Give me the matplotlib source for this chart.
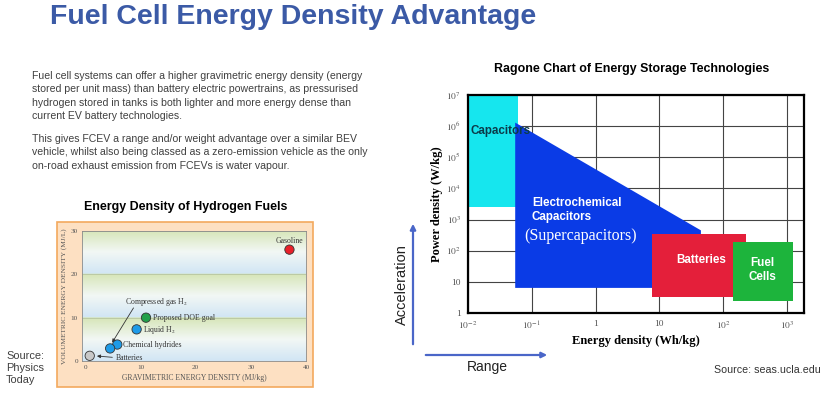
import numpy as np
import matplotlib.pyplot as plt
from matplotlib.patches import Rectangle, Polygon, FancyArrowPatch

plt.rcParams['font.family'] = ['Liberation Sans', 'DejaVu Sans']
plt.rcParams['mathtext.fontset'] = 'stix'

W, H = 827, 393

# Energy density of hydrogen fuels (MJ/kg, MJ/L)
fuel_names = ['Gasoline', 'Proposed DOE goal', 'Liquid H$_2$', 'Chemical hydrides', 'Chemical hydrides', 'Batteries']
fuel_grav = [37.0, 11.0, 9.3, 5.8, 4.5, 0.8]
fuel_vol = [25.7, 10.0, 7.3, 3.8, 2.9, 1.2]
fuel_colors = ['#e8202a', '#22a04a', '#1e9be8', '#1e9be8', '#1e9be8', '#c8c8c8']
left_xticks = [0, 10, 20, 30, 40]
left_yticks = [0, 10, 20, 30]

# Ragone chart regions (Wh/kg, W/kg)
cap_x = [0.01, 0.06]
cap_y = [2500, 1e7]
ec_x = [0.055, 0.055, 45, 45]
ec_y = [6.4, 1.3e6, 450, 6.4]
bat_x = [7.6, 230]
bat_y = [3.3, 350]
fc_x = [142, 1230]
fc_y = [2.5, 190]
rag_xticks = [1e-2, 1e-1, 1, 10, 1e2, 1e3]
rag_xlabels = [r'$10^{-2}$', r'$10^{-1}$', '1', '10', r'$10^{2}$', r'$10^{3}$']
rag_yticks = [1, 10, 1e2, 1e3, 1e4, 1e5, 1e6, 1e7]
rag_ylabels = ['1', '10', r'$10^{2}$', r'$10^{3}$', r'$10^{4}$', r'$10^{5}$', r'$10^{6}$', r'$10^{7}$']


def rect(x0, y0, x1, y1):
    return [x0 / W, 1 - y1 / H, (x1 - x0) / W, (y1 - y0) / H]


fig = plt.figure(figsize=(W / 100, H / 100), dpi=100)
fig.patch.set_facecolor('white')

# slide title and text
fig.text(50 / W, 1 - 17 / H, 'Fuel Cell Energy Density Advantage', fontsize=20.5, fontweight='bold',
         color='#3b5aa6', va='center', ha='left')
para1 = ("Fuel cell systems can offer a higher gravimetric energy density (energy\n"
         "stored per unit mass) than battery electric powertrains, as pressurised\n"
         "hydrogen stored in tanks is both lighter and more energy dense than\n"
         "current EV battery technologies.")
para2 = ("This gives FCEV a range and/or weight advantage over a similar BEV\n"
         "vehicle, whilst also being classed as a zero-emission vehicle as the only\n"
         "on-road exhaust emission from FCEVs is water vapour.")
fig.text(32 / W, 1 - 71 / H, para1, fontsize=7.6, color='#404040', va='top', ha='left', linespacing=1.42)
fig.text(32 / W, 1 - 134 / H, para2, fontsize=7.6, color='#404040', va='top', ha='left', linespacing=1.42)

# ---- left chart: energy density of hydrogen fuels ----
fig.text(186 / W, 1 - 207 / H, 'Energy Density of Hydrogen Fuels', fontsize=8.9, fontweight='bold',
         ha='center', va='center')
fig.patches.append(Rectangle((57 / W, 1 - 387 / H), 256 / W, 165 / H, transform=fig.transFigure,
                             facecolor='#fde0c2', edgecolor='#f3a95e', lw=1.2, zorder=-1))

ax1 = fig.add_axes(rect(82, 231, 306, 361))
ax1.set_xlim(-0.6, 40)
ax1.set_ylim(0, 30)
# banded background, green on top of each 10-unit band fading to light blue
t = np.linspace(0, 1, 100)[:, None]
green = np.array([0.84, 0.90, 0.72])
white = np.array([0.95, 0.97, 0.96])
blue = np.array([0.82, 0.90, 0.96])
band = np.where(t < 0.5, blue + (white - blue) * (t / 0.5), white + (green - white) * ((t - 0.5) / 0.5))
bg = np.vstack([band, band, band])[:, None, :]
ax1.imshow(bg, extent=[-0.6, 40, 0, 30], origin='lower', aspect='auto', zorder=0)
for yv in left_yticks:
    ax1.axhline(yv, color='#a8b494', lw=0.4, zorder=1)
ax1.scatter(fuel_grav, fuel_vol, s=45, c=fuel_colors, edgecolors='#333333', linewidths=0.6, zorder=3)
lab_kw = dict(fontsize=5.6, family='Liberation Serif', color='#333333', zorder=4)
ax1.text(fuel_grav[0], fuel_vol[0] + 1.9, fuel_names[0], ha='center', va='center', **lab_kw)
ax1.text(fuel_grav[1] + 1.2, fuel_vol[1], fuel_names[1], ha='left', va='center', **lab_kw)
ax1.text(fuel_grav[2] + 1.1, fuel_vol[2] - 0.2, fuel_names[2], ha='left', va='center', **lab_kw)
ax1.text(fuel_grav[3] + 1.1, fuel_vol[3] - 0.2, fuel_names[3], ha='left', va='center', **lab_kw)
ax1.text(5.6, 0.8, fuel_names[5], ha='left', va='center', **lab_kw)
ax1.text(7.2, 13.6, 'Compressed gas H$_2$', ha='left', va='center', **lab_kw)
ax1.annotate('', xy=(fuel_grav[4] + 0.1, fuel_vol[4] + 0.8), xytext=(9.0, 12.8),
             arrowprops=dict(arrowstyle='-|>', color='#333333', lw=0.6, mutation_scale=5), zorder=4)
ax1.annotate('', xy=(fuel_grav[5] + 0.8, fuel_vol[5]), xytext=(5.4, 0.8),
             arrowprops=dict(arrowstyle='-|>', color='#333333', lw=0.6, mutation_scale=5), zorder=4)
ax1.set_xticks(left_xticks)
ax1.set_yticks(left_yticks)
ax1.tick_params(length=0, labelsize=5.2, labelcolor='#555555', pad=3)
for lab in ax1.get_xticklabels() + ax1.get_yticklabels():
    lab.set_family('Liberation Serif')
for sp in ax1.spines.values():
    sp.set_color('#8a8a8a')
    sp.set_linewidth(0.6)
ax1.set_xlabel('GRAVIMETRIC ENERGY DENSITY (MJ/kg)', fontsize=5.5, family='Liberation Serif',
               color='#555555', labelpad=3)
ax1.set_ylabel('VOLUMETRIC ENERGY DENSITY (MJ/L)', fontsize=5.3, family='Liberation Serif',
               color='#555555', labelpad=3)

fig.text(6 / W, 1 - 368 / H, 'Source:\nPhysics\nToday', fontsize=7.9, color='#404040', va='center',
         ha='left', linespacing=1.2)

# ---- right chart: Ragone chart ----
fig.text(632 / W, 1 - 69 / H, 'Ragone Chart of Energy Storage Technologies', fontsize=8.9, fontweight='bold',
         ha='center', va='center')
ax2 = fig.add_axes(rect(468, 95, 804, 313))
ax2.set_xscale('log')
ax2.set_yscale('log')
ax2.set_xlim(1e-2, 10 ** 3.27)
ax2.set_ylim(1, 1e7)
ax2.set_axisbelow(True)
ax2.grid(True, which='major', color='#444444', lw=0.8)
ax2.add_patch(Rectangle((cap_x[0], cap_y[0]), cap_x[1] - cap_x[0], cap_y[1] - cap_y[0],
                        facecolor='#16e6ee', edgecolor='none', zorder=2))
ax2.add_patch(Polygon(list(zip(ec_x, ec_y)), closed=True, facecolor='#0a3be6', edgecolor='none', zorder=3))
ax2.add_patch(Rectangle((bat_x[0], bat_y[0]), bat_x[1] - bat_x[0], bat_y[1] - bat_y[0],
                        facecolor='#e41f3a', edgecolor='none', zorder=4))
ax2.add_patch(Rectangle((fc_x[0], fc_y[0]), fc_x[1] - fc_x[0], fc_y[1] - fc_y[0],
                        facecolor='#1db43c', edgecolor='none', zorder=5))
ax2.text(0.0108, 7e5, 'Capacitors', fontsize=8.4, fontweight='bold', color='#0b3b4a', ha='left',
         va='center', zorder=6)
ax2.text(0.1, 10 ** 3.3, 'Electrochemical\nCapacitors', fontsize=8.4, fontweight='bold', color='white',
         ha='left', va='center', linespacing=1.25, zorder=6)
ax2.text(0.58, 10 ** 2.48, '(Supercapacitors)', fontsize=11.5, family='Liberation Serif', color='white',
         ha='center', va='center', zorder=6)
ax2.text(46, 49, 'Batteries', fontsize=8.4, fontweight='bold', color='white', ha='center', va='center', zorder=6)
ax2.text(420, 24, 'Fuel\nCells', fontsize=8.4, fontweight='bold', color='white', ha='center', va='center',
         linespacing=1.25, zorder=6)
ax2.set_xticks(rag_xticks)
ax2.set_xticklabels(rag_xlabels)
ax2.set_yticks(rag_yticks)
ax2.set_yticklabels(rag_ylabels)
ax2.minorticks_off()
ax2.tick_params(length=0, labelsize=6.8, labelcolor='#555555', pad=5)
for lab in ax2.get_xticklabels() + ax2.get_yticklabels():
    lab.set_family('Liberation Serif')
for sp in ax2.spines.values():
    sp.set_color('black')
    sp.set_linewidth(1.6)
ax2.set_xlabel('Energy density (Wh/kg)', fontsize=9, fontweight='bold', family='Liberation Serif', labelpad=2)
ax2.set_ylabel('Power density (W/kg)', fontsize=9, fontweight='bold', family='Liberation Serif', labelpad=2)

# acceleration / range arrows
fig.patches.append(FancyArrowPatch((413 / W, 1 - 347 / H), (413 / W, 1 - 221 / H), transform=fig.transFigure,
                                   arrowstyle='-|>', mutation_scale=8, color='#4a66c8', lw=1.6))
fig.patches.append(FancyArrowPatch((423 / W, 1 - 355 / H), (550 / W, 1 - 355 / H), transform=fig.transFigure,
                                   arrowstyle='-|>', mutation_scale=8, color='#4a66c8', lw=1.6))
fig.text(402 / W, 1 - 285 / H, 'Acceleration', fontsize=10.5, rotation=90, ha='center', va='center',
         color='#222222')
fig.text(487 / W, 1 - 367 / H, 'Range', fontsize=10, ha='center', va='center', color='#222222')
fig.text(821 / W, 1 - 370 / H, 'Source: seas.ucla.edu', fontsize=7.7, ha='right', va='center', color='#333333')

fig.savefig('out.png', dpi=100)
